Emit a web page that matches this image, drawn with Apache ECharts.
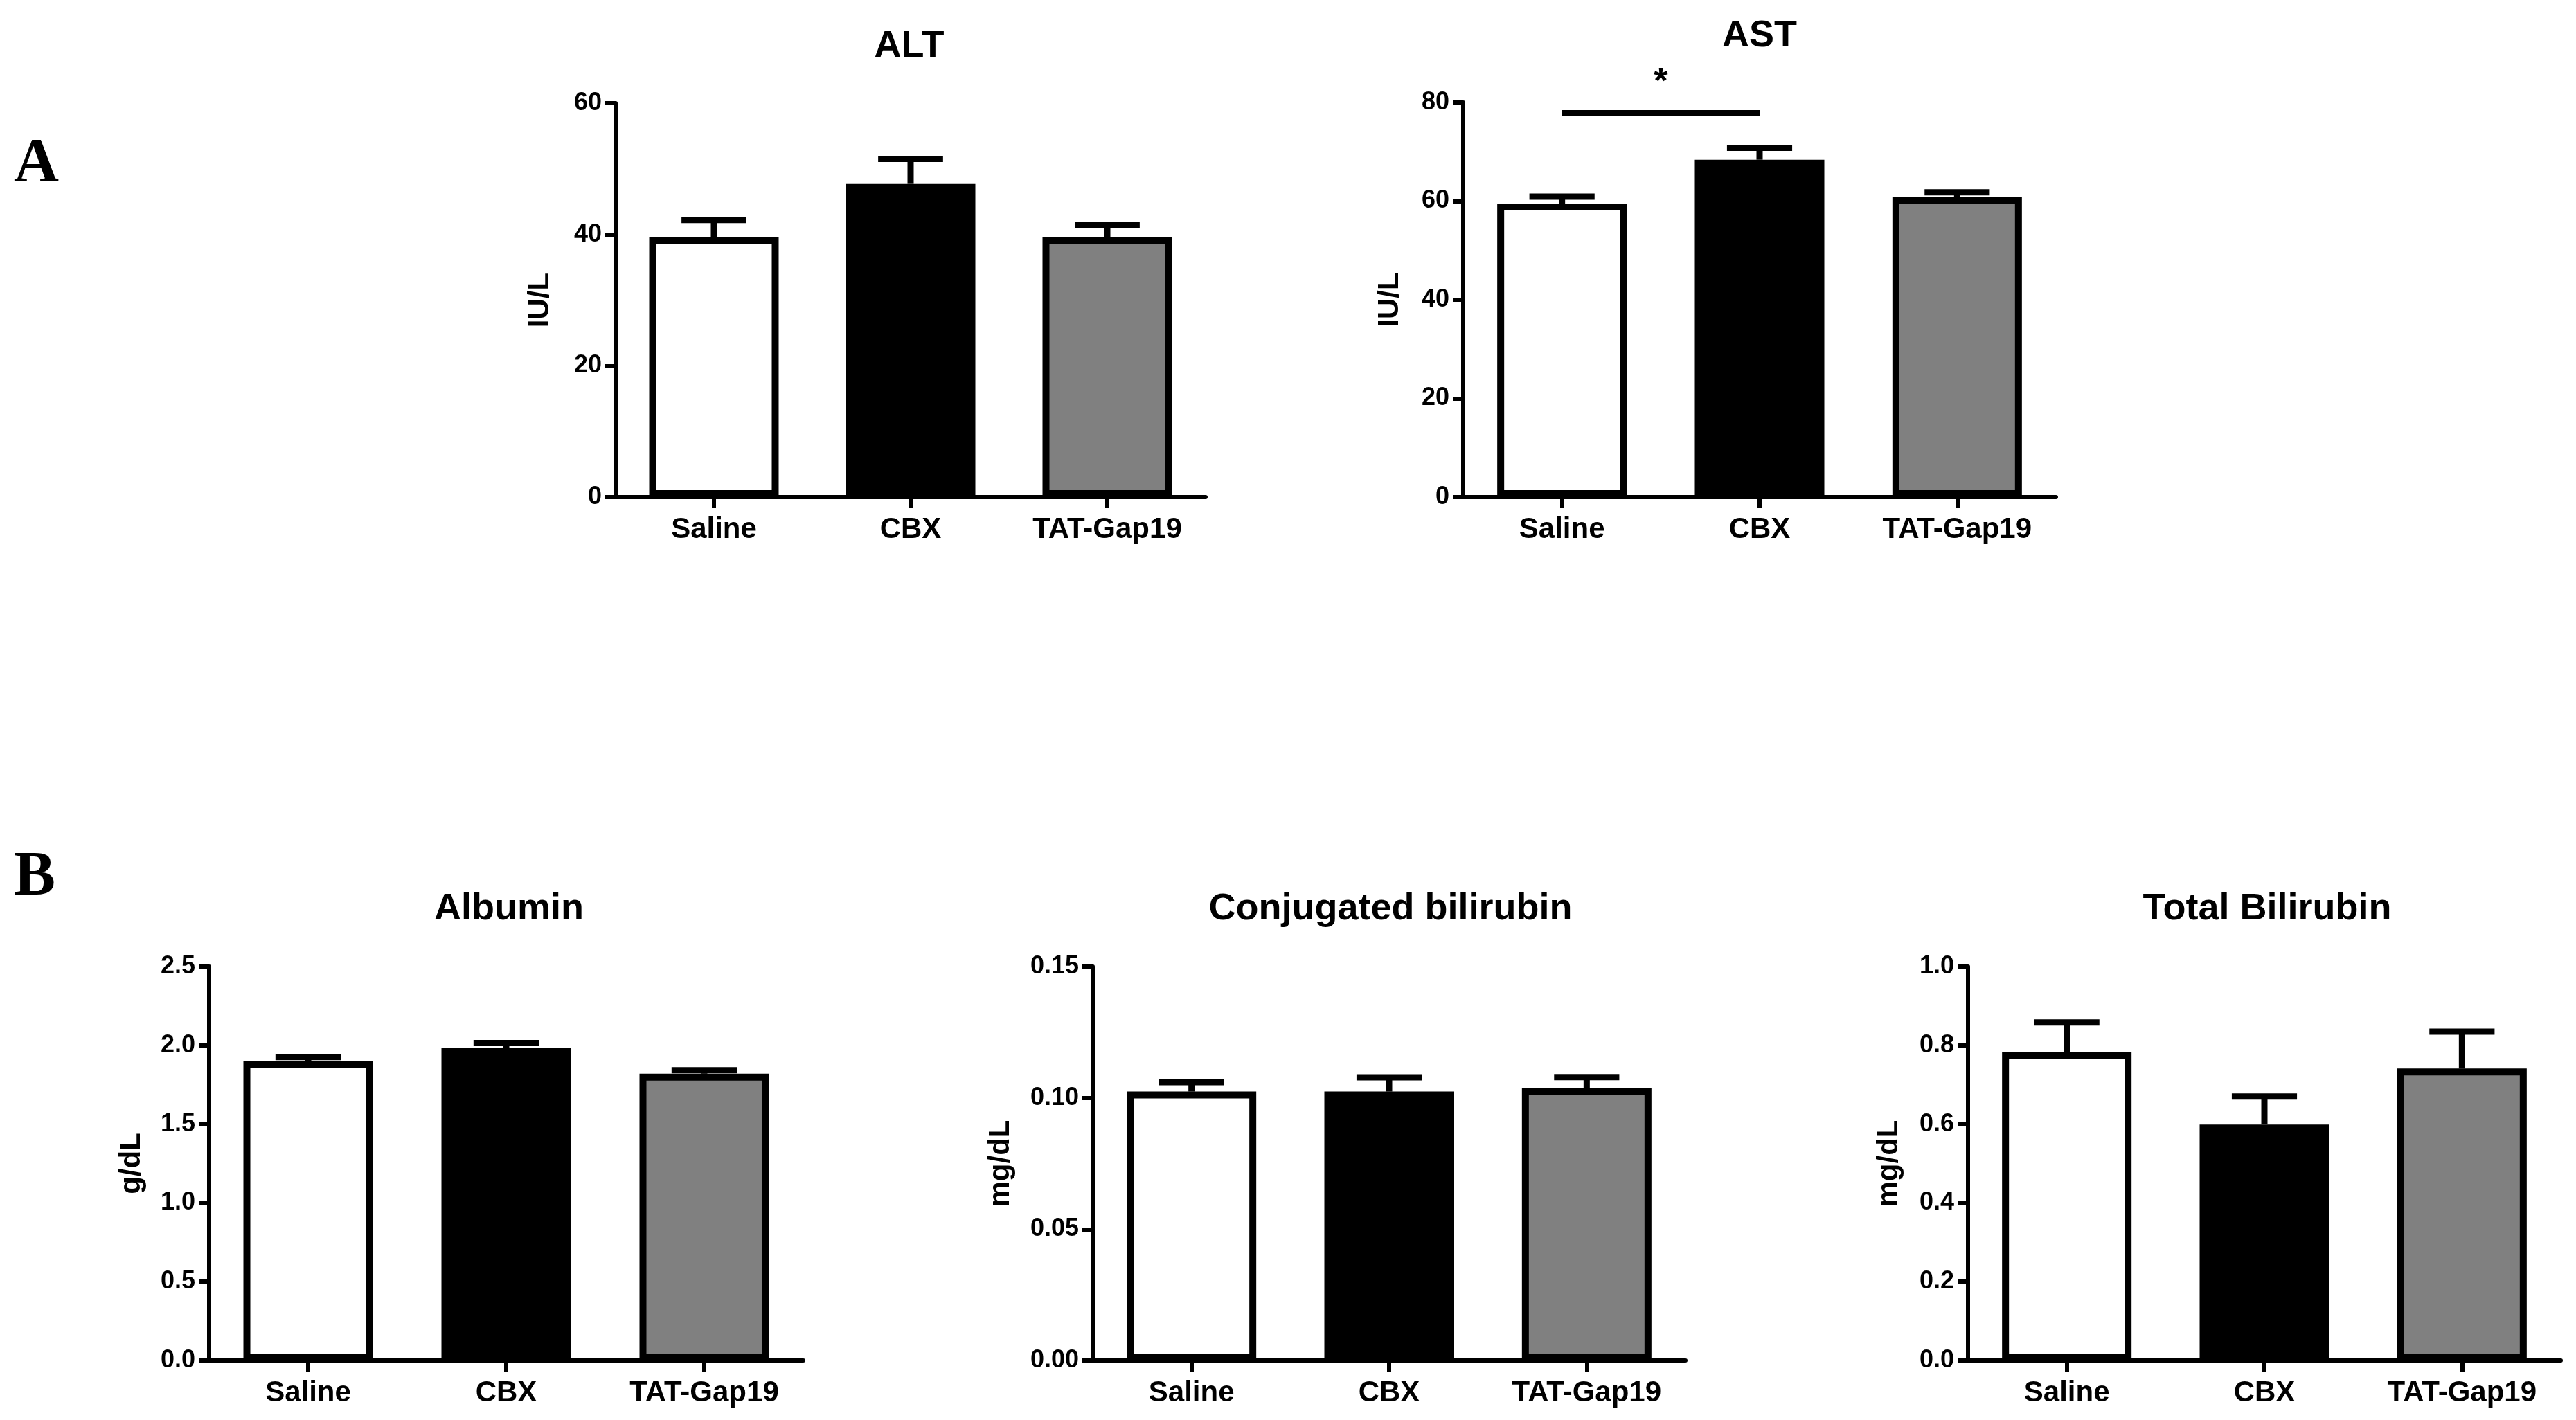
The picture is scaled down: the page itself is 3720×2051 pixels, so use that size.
<!DOCTYPE html>
<html>
<head>
<meta charset="utf-8">
<script src="https://cdn.jsdelivr.net/npm/echarts@6/dist/echarts.min.js"></script>
<style>
  html, body { margin: 0; padding: 0; background: #fff; }
  #main { width: 3720px; height: 2051px; }
</style>
</head>
<body>
<div id="main"></div>
<script>
// groups and fills
var groups = ['Saline', 'CBX', 'TAT-Gap19'];
var barColors = ['#ffffff', '#000000', '#808080'];

// panel texts
var panelTitles = ['ALT', 'AST', 'Albumin', 'Conjugated bilirubin', 'Total Bilirubin'];
var unitNames = ['IU/L', 'IU/L', 'g/dL', 'mg/dL', 'mg/dL'];

// means and upper error (SEM) per panel
var altMean = [39.6, 47.7, 39.6];
var altErr = [2.6, 3.8, 1.9];
var astMean = [59.5, 68.4, 60.8];
var astErr = [1.4, 2.4, 1.0];
var albMean = [1.90, 1.985, 1.82];
var albErr = [0.025, 0.03, 0.022];
var conjMean = [0.1024, 0.1024, 0.1038];
var conjErr = [0.0036, 0.0054, 0.0041];
var totMean = [0.782, 0.599, 0.741];
var totErr = [0.076, 0.071, 0.094];

// y axis ticks
var yMax = [60, 80, 2.5, 0.15, 1.0];
var yStep = [20, 20, 0.5, 0.05, 0.2];
var yDigits = [0, 0, 1, 2, 1];

// significance bracket on AST (Saline vs CBX)
var sigLevel = 77.8;
var sigText = '*';

var means = [altMean, astMean, albMean, conjMean, totMean];
var errs = [altErr, astErr, albErr, conjErr, totErr];

var FONT = '"Liberation Sans", Arial, sans-serif';

// layout of the five panels (pixels)
var boxes = [
  { left: 889, top: 149, width: 852, height: 569, tx: 1313, ty: 40, gap: 88 },
  { left: 2113, top: 148, width: 856, height: 570, tx: 2541, ty: 25, gap: 85 },
  { left: 302, top: 1396, width: 858, height: 569, tx: 735, ty: 1286, gap: 91 },
  { left: 1578, top: 1396, width: 856, height: 569, tx: 2008, ty: 1286, gap: 112 },
  { left: 2842, top: 1396, width: 856, height: 569, tx: 3274, ty: 1286, gap: 93 }
];

var myChart = echarts.init(document.getElementById('main'));

var grids = [], xAxes = [], yAxes = [], series = [], titles = [];

boxes.forEach(function (b, k) {
  grids.push({ left: b.left, top: b.top, width: b.width, height: b.height, containLabel: false });
  titles.push({
    text: panelTitles[k], left: b.tx, top: b.ty, textAlign: 'center', padding: 0,
    textStyle: { fontFamily: FONT, fontWeight: 'bold', fontSize: 54, color: '#000' }
  });
  xAxes.push({
    type: 'category', gridIndex: k, data: groups,
    axisLine: { show: true, lineStyle: { color: '#000', width: 6 } },
    axisTick: { show: true, alignWithLabel: true, length: 16, lineStyle: { color: '#000', width: 6 } },
    axisLabel: { fontFamily: FONT, fontWeight: 'bold', fontSize: 42, color: '#000', margin: 26 },
    splitLine: { show: false }
  });
  yAxes.push({
    type: 'value', gridIndex: k, min: 0, max: yMax[k], interval: yStep[k],
    name: unitNames[k], nameLocation: 'middle', nameGap: b.gap, nameRotate: 90,
    nameTextStyle: { fontFamily: FONT, fontWeight: 'bold', fontSize: 42, color: '#000' },
    axisLine: { show: true, lineStyle: { color: '#000', width: 6 } },
    axisTick: { show: true, length: 15, lineStyle: { color: '#000', width: 6 } },
    axisLabel: {
      fontFamily: FONT, fontWeight: 'bold', fontSize: 36, color: '#000', margin: 20,
      formatter: (function (d) { return function (v) { return v.toFixed(d); }; })(yDigits[k])
    },
    splitLine: { show: false }
  });

  var bar = {
    type: 'bar', xAxisIndex: k, yAxisIndex: k, barWidth: 187, z: 2,
    data: means[k].map(function (v, i) {
      return { value: v, itemStyle: { color: barColors[i], borderColor: '#000', borderWidth: 10 } };
    })
  };
  if (k === 1) {
    bar.markLine = {
      silent: true, symbol: 'none',
      lineStyle: { color: '#000', width: 9, type: 'solid' },
      label: { show: true, position: 'middle', formatter: sigText, fontFamily: FONT, fontWeight: 'bold', fontSize: 52, color: '#000', distance: 18 },
      data: [[{ coord: [0, sigLevel] }, { coord: [1, sigLevel] }]]
    };
  }
  series.push(bar);

  // upper error bars
  series.push({
    type: 'custom', xAxisIndex: k, yAxisIndex: k, z: 3,
    encode: { x: 0, y: 1 },
    data: means[k].map(function (m, i) { return [i, m, errs[k][i]]; }),
    renderItem: function (params, api) {
      var i = api.value(0), m = api.value(1), e = api.value(2);
      var p0 = api.coord([i, m]);
      var p1 = api.coord([i, m + e]);
      var half = api.size([1, 0])[0] * 0.165;
      var st = { stroke: '#000', lineWidth: 9 };
      return {
        type: 'group',
        children: [
          { type: 'line', shape: { x1: p0[0], y1: p0[1], x2: p1[0], y2: p1[1] }, style: st },
          { type: 'line', shape: { x1: p1[0] - half, y1: p1[1], x2: p1[0] + half, y2: p1[1] }, style: st }
        ]
      };
    }
  });
});

var option = {
  backgroundColor: '#fff',
  animation: false,
  title: titles,
  grid: grids,
  xAxis: xAxes,
  yAxis: yAxes,
  series: series,
  graphic: [
    { type: 'text', left: 20, top: 194, style: { text: 'A', font: 'bold 90px "Liberation Serif", "Times New Roman", serif', fill: '#000' } },
    { type: 'text', left: 20, top: 1224, style: { text: 'B', font: 'bold 90px "Liberation Serif", "Times New Roman", serif', fill: '#000' } }
  ]
};
myChart.setOption(option);
</script>
</body>
</html>
